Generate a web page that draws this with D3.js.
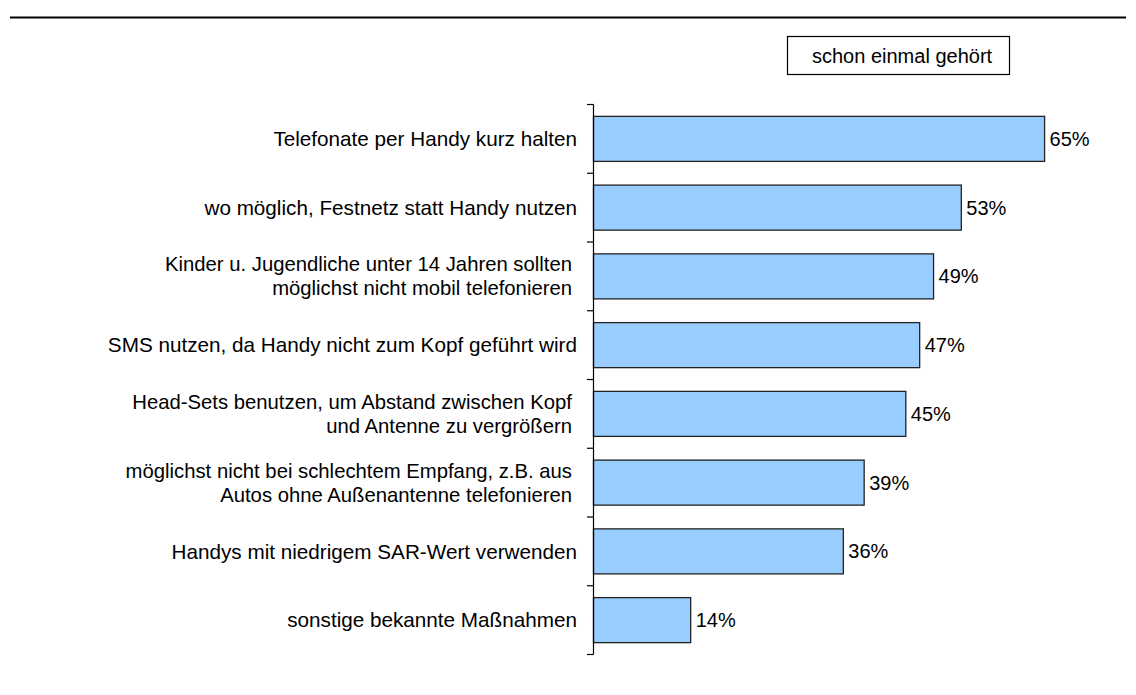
<!DOCTYPE html>
<html><head><meta charset="utf-8">
<script src="https://cdn.jsdelivr.net/npm/d3@7/dist/d3.min.js"></script>
<style>body{margin:0;background:#fff}svg{display:block}text{font-family:"Liberation Sans",Arial,sans-serif;fill:#000}</style>
</head><body>
<svg id="c" width="1136" height="695"></svg>
<script>
const categories = [
  ["Telefonate per Handy kurz halten"],
  ["wo möglich, Festnetz statt Handy nutzen"],
  ["Kinder u. Jugendliche unter 14 Jahren sollten", "möglichst nicht mobil telefonieren"],
  ["SMS nutzen, da Handy nicht zum Kopf geführt wird"],
  ["Head-Sets benutzen, um Abstand zwischen Kopf", "und Antenne zu vergrößern"],
  ["möglichst nicht bei schlechtem Empfang, z.B. aus", "Autos ohne Außenantenne telefonieren"],
  ["Handys mit niedrigem SAR-Wert verwenden"],
  ["sonstige bekannte Maßnahmen"]
];
const values = [65, 53, 49, 47, 45, 39, 36, 14];
const seriesName = "schon einmal gehört";

const svg = d3.select("#c");
const axisX = 593.5;
const y = d3.scaleBand().domain(d3.range(categories.length)).range([104.5, 654.5]).paddingInner(0.345).paddingOuter(0.1725);
const x = d3.scaleLinear().domain([0, 100]).range([axisX, axisX + 694]);

// top rule
svg.append("line").attr("x1", 10).attr("x2", 1126).attr("y1", 17.5).attr("y2", 17.5)
  .attr("stroke", "#000").attr("stroke-width", 2);

// legend
svg.append("rect").attr("x", 787.5).attr("y", 36.5).attr("width", 222).attr("height", 38)
  .attr("fill", "#fff").attr("stroke", "#000").attr("stroke-width", 1.2);
svg.append("text").attr("x", 812).attr("y", 63).attr("font-size", 20).text(seriesName);

// bars
svg.selectAll("rect.bar").data(values).join("rect").attr("class", "bar")
  .attr("x", x(0)).attr("y", (d, i) => y(i))
  .attr("width", d => x(d) - x(0)).attr("height", y.bandwidth())
  .attr("fill", "#99CCFF").attr("stroke", "#222").attr("stroke-width", 1.3);

// value labels
svg.selectAll("text.val").data(values).join("text").attr("class", "val")
  .attr("x", d => x(d) + 5).attr("y", (d, i) => y(i) + y.bandwidth() / 2)
  .attr("dy", "0.35em").attr("font-size", 20).text(d => d + "%");

// axis
const step = y.step();
const ticks = d3.range(categories.length + 1).map(i => 104.5 + i * step);
svg.append("line").attr("x1", axisX).attr("x2", axisX).attr("y1", ticks[0]).attr("y2", ticks[ticks.length - 1])
  .attr("stroke", "#000").attr("stroke-width", 1.2);
svg.selectAll("line.tick").data(ticks).join("line").attr("class", "tick")
  .attr("x1", axisX - 6.5).attr("x2", axisX).attr("y1", d => d).attr("y2", d => d)
  .attr("stroke", "#000").attr("stroke-width", 1.2);

// category labels
categories.forEach((lines, i) => {
  const cy = y(i) + y.bandwidth() / 2;
  const lh = 24;
  const multi = lines.length > 1;
  const xr = multi ? 572 : 577;
  const t = svg.append("text").attr("text-anchor", "end").attr("font-size", multi ? 20.3 : 20.7);
  lines.forEach((l, k) => {
    t.append("tspan").attr("x", xr).attr("y", cy + (k - (lines.length - 1) / 2) * lh).attr("dy", "0.35em").text(l);
  });
});
</script>
</body></html>
